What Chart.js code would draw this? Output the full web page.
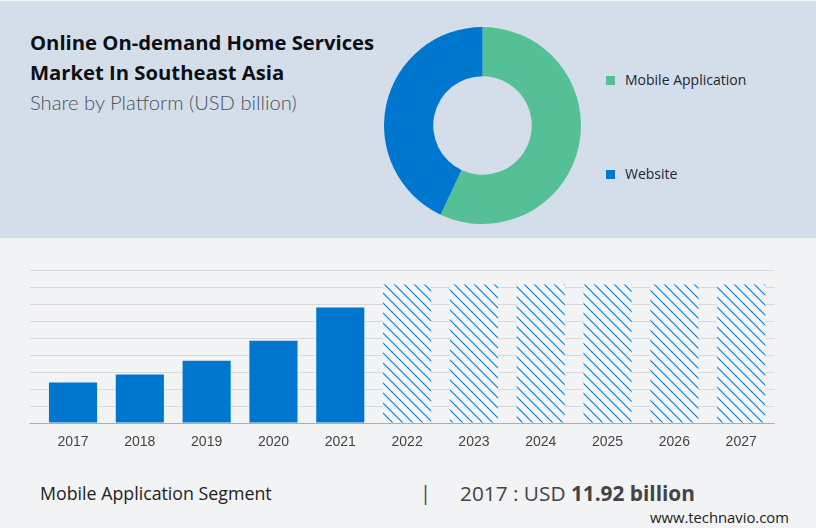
<!DOCTYPE html>
<html>
<head>
<meta charset="utf-8">
<script src="https://cdn.jsdelivr.net/npm/chart.js@4"></script>
<style>
html,body{margin:0;padding:0;width:816px;height:528px;overflow:hidden;background:#f2f3f5}
#panel{position:absolute;left:0;top:1px;width:816px;height:237px;background:#d4deea}
.t{position:absolute;white-space:nowrap;font-family:"Open Sans",sans-serif}
canvas{position:absolute;left:0;top:0}
#wrapD{position:absolute;left:384px;top:27px;width:197px;height:197px}
#wrapB{position:absolute;left:0;top:260px;width:816px;height:200px}
.sw{position:absolute;width:9px;height:9px}
</style>
</head>
<body>
<div id="panel"></div>
<div class="t" style="left:30px;top:28px;font-size:20.25px;font-weight:700;color:#0c0f14;line-height:28px">Online On-demand Home Services</div>
<div class="t" style="left:30px;top:58px;font-size:20.25px;font-weight:700;color:#0c0f14;line-height:28px">Market In Southeast Asia</div>
<div class="t" style="left:30px;top:89px;font-size:20.2px;font-family:Lato,sans-serif;font-weight:300;color:#4d535b;line-height:26px">Share by Platform (USD billion)</div>
<div class="t" style="left:40px;top:480px;font-size:17.8px;color:#222;line-height:26px">Mobile Application Segment</div>
<div class="t" style="left:420px;top:480px;font-size:20px;color:#444;line-height:26px">|</div>
<div class="t" style="left:460px;top:480px;font-size:20.8px;color:#444;line-height:26px">2017 : USD <b>11.92 billion</b></div>
<div class="t" style="left:650px;top:507px;font-size:14.8px;color:#222;line-height:20px">www.technavio.com</div>
<div id="legend"></div>
<div id="wrapD"><canvas id="donut" width="197" height="197"></canvas></div>
<div id="wrapB"><canvas id="bars" width="816" height="200"></canvas></div>
<script>
const platforms = ["Mobile Application", "Website"];
const shares = [57, 43];
const platformColors = ["#55bf95", "#0077cf"];

const years = ["2017","2018","2019","2020","2021","2022","2023","2024","2025","2026","2027"];
const marketValues = [11.92, 14.3, 18.3, 24.2, 34, 40.7, 40.7, 40.7, 40.7, 40.7, 40.7];
const actualYears = 5;

function hatch(){
  const s = 10, c = document.createElement("canvas");
  c.width = s; c.height = s;
  const g = c.getContext("2d");
  g.fillStyle = "#f3f5f9"; g.fillRect(0,0,s,s);
  g.strokeStyle = "#0a78d2"; g.lineWidth = 1.1;
  g.beginPath();
  g.moveTo(-2,-2); g.lineTo(s+2,s+2);
  g.moveTo(-2-s,-2); g.lineTo(2,s+2);
  g.moveTo(s-2,-2); g.lineTo(2*s+2,s+2);
  g.stroke();
  return g.createPattern(c,"repeat");
}

const legendY = [80, 174];
const legendEl = document.getElementById("legend");
platforms.forEach((name,i)=>{
  const sw = document.createElement("div");
  sw.className = "sw";
  sw.style.cssText = `left:606px;top:${legendY[i]-4}px;background:${platformColors[i]}`;
  const tx = document.createElement("div");
  tx.className = "t";
  tx.textContent = name;
  tx.style.cssText = `left:625px;top:${legendY[i]-10}px;font-size:14px;line-height:20px;color:#1d2430`;
  legendEl.append(sw,tx);
});

new Chart(document.getElementById("donut"), {
  type: "doughnut",
  data: { labels: platforms, datasets: [{ data: shares, backgroundColor: platformColors, borderWidth: 0 }] },
  options: {
    responsive: false, animation: false, cutout: "50%",
    layout: { padding: 0 },
    plugins: { tooltip: { enabled: false }, legend: { display: false } }
  }
});
const pat = hatch();
new Chart(document.getElementById("bars"), {
  type: "bar",
  data: { labels: years, datasets: [{
    data: marketValues,
    backgroundColor: marketValues.map((v,i)=> i < actualYears ? "#0077cf" : pat),
    borderWidth: 0, barPercentage: 0.72, categoryPercentage: 1
  }]},
  options: {
    responsive: false, animation: false,
    layout: { padding: { left: 30, right: 41.4, top: 10, bottom: 0 } },
    plugins: { legend: { display: false }, tooltip: { enabled: false } },
    scales: {
      x: {
        grid: { display: false }, border: { display: false },
        afterFit: s => { s.height = 37; },
        ticks: { color: "#444", padding: 3, maxRotation: 0, autoSkip: false, font: { family: "'Liberation Sans'", size: 14 } }
      },
      y: {
        min: 0, max: 45,
        afterFit: s => { s.width = 9.6; },
        ticks: { stepSize: 5, display: false },
        border: { display: false },
        grid: { tickLength: 10, lineWidth: 1, color: c => c.tick && c.tick.value === 0 ? "#adadb0" : "#d9d9dd" }
      }
    }
  }
});
</script>
</body>
</html>
